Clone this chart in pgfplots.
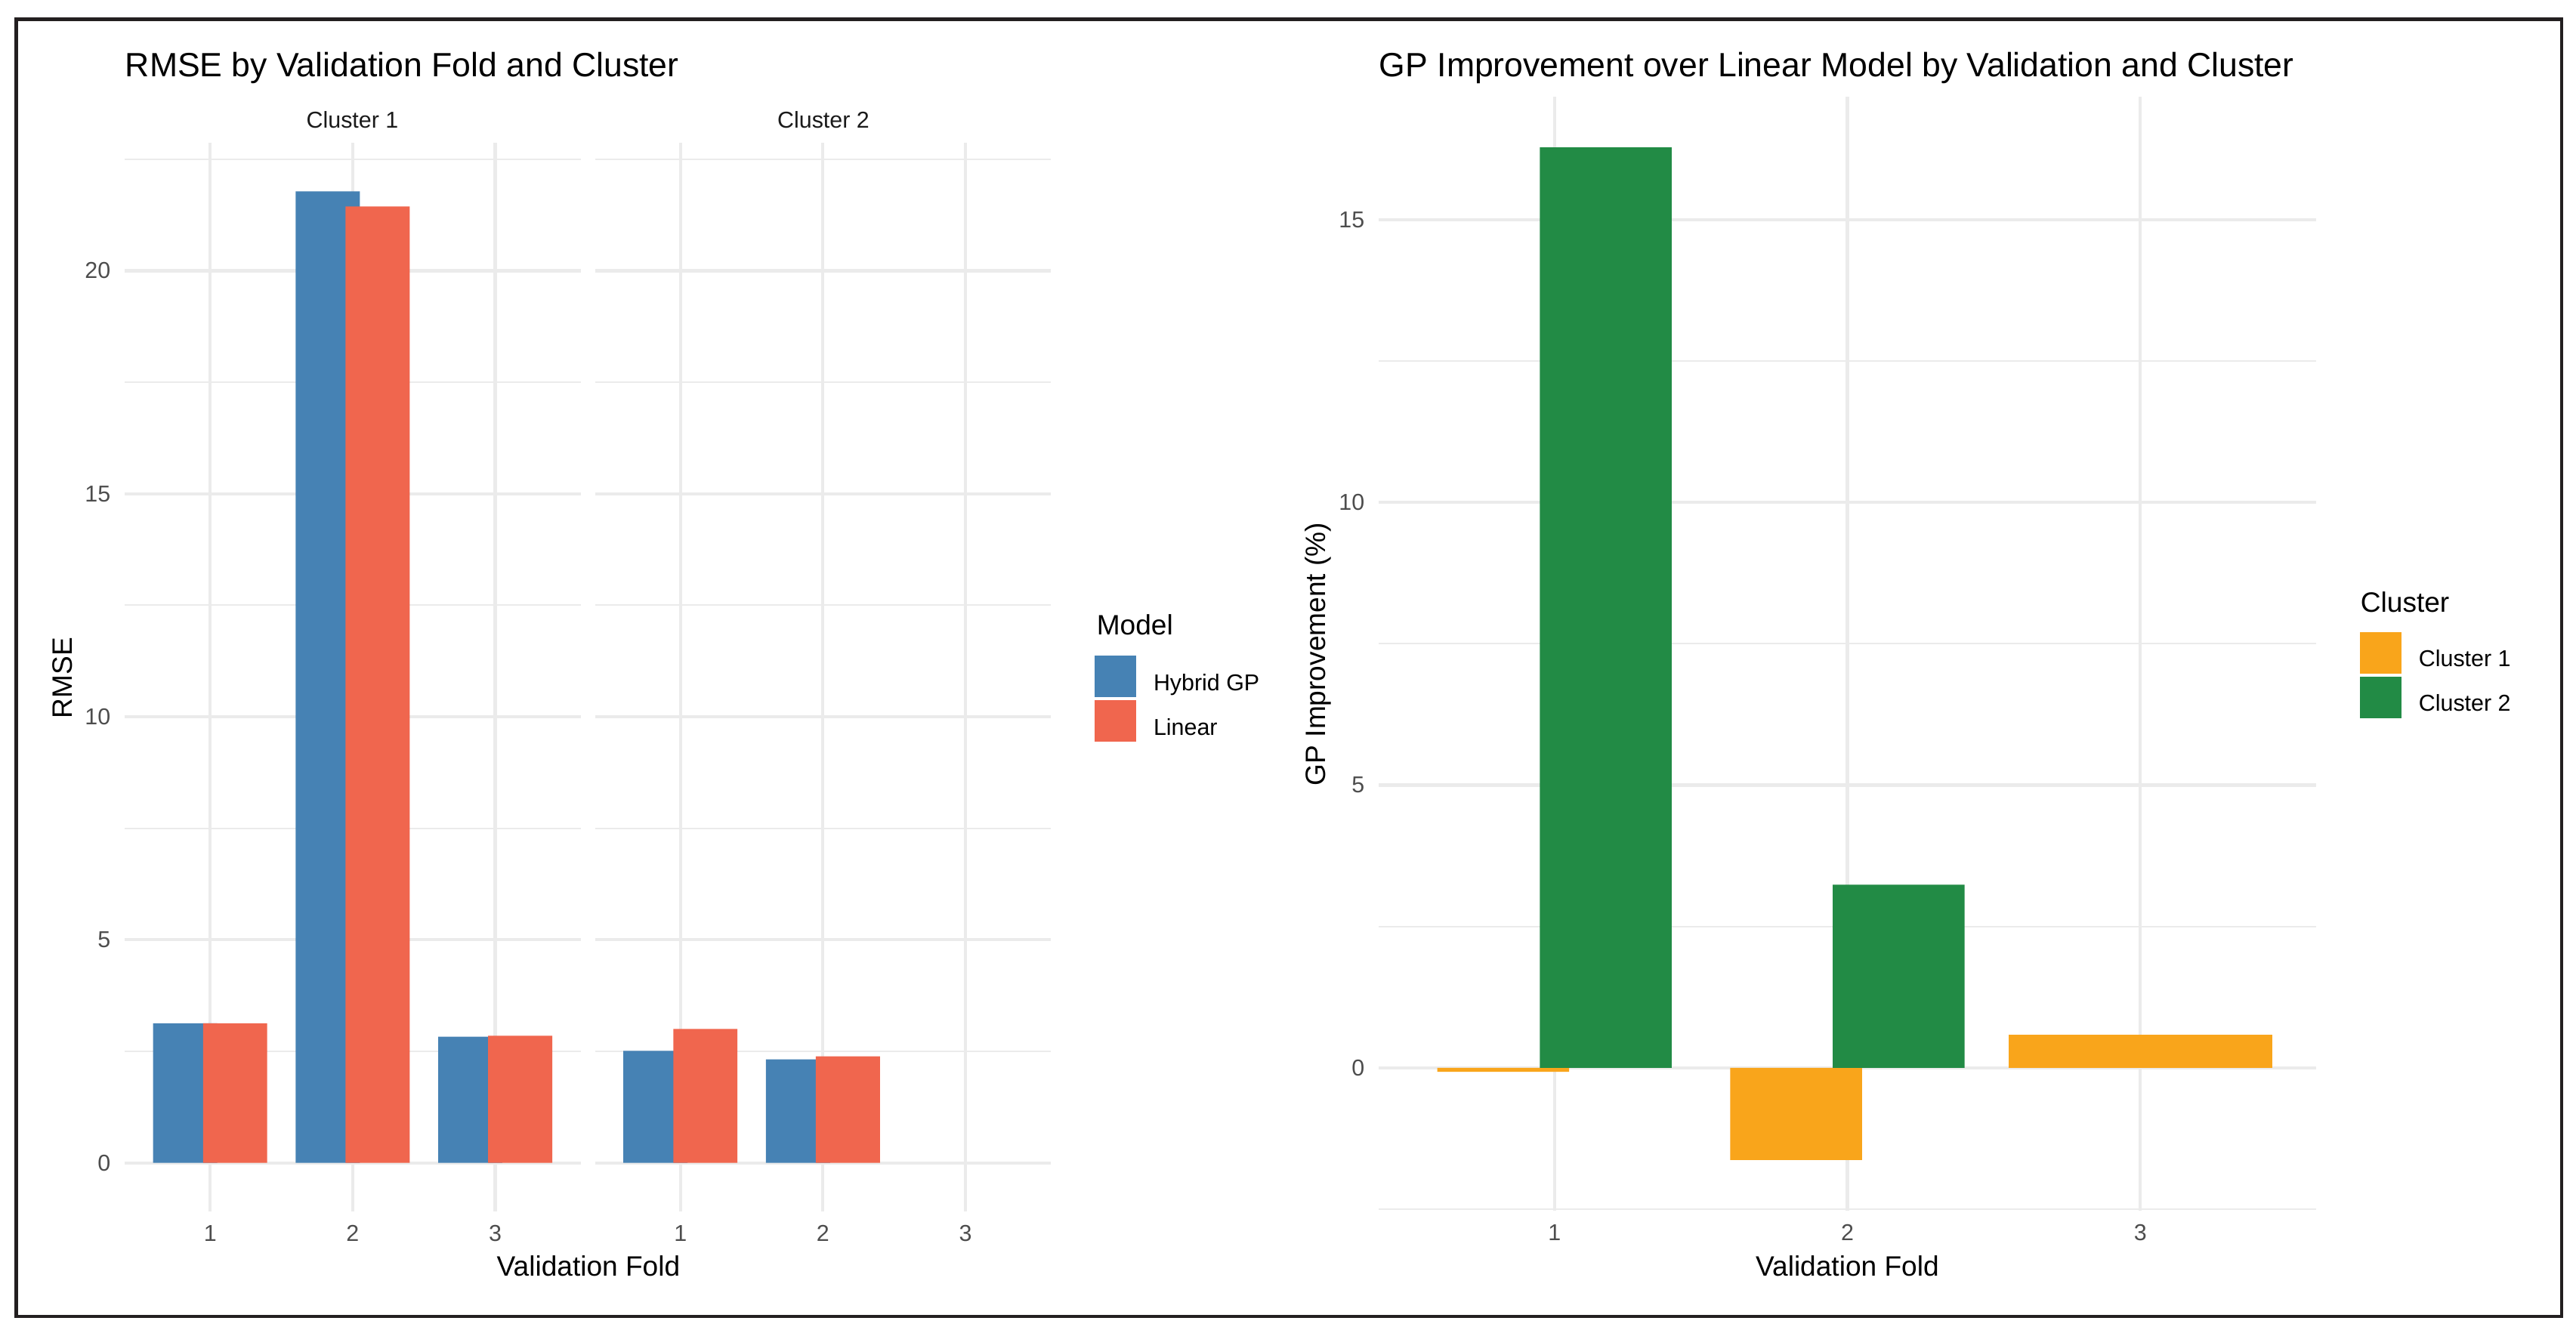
\documentclass[border=0pt]{standalone}
\usepackage{fontspec}
\setmainfont{Liberation Sans}
\usepackage{pgfplots}
\pgfplotsset{compat=1.18}

\definecolor{hybridblue}{RGB}{70,130,180}
\definecolor{linearred}{RGB}{240,102,78}
\definecolor{clusterorange}{RGB}{249,165,27}
\definecolor{clustergreen}{RGB}{34,139,69}
\definecolor{gridgray}{RGB}{235,235,235}
\definecolor{tickgray}{RGB}{77,77,77}
\definecolor{stripgray}{RGB}{26,26,26}
\definecolor{framecol}{RGB}{35,31,32}

\newcommand{\smallfont}{\fontsize{7.3}{8.5}\selectfont}
\newcommand{\labelfont}{\fontsize{8.9}{10.5}\selectfont}
\newcommand{\titlefont}{\fontsize{10.7}{12.5}\selectfont}

\pgfplotsset{
  panel/.style={
    scale only axis,
    axis line style={draw=none},
    tick style={draw=none},
    xmin=0.4, xmax=3.6,
    xtick={1,2,3},
    xmajorgrids, ymajorgrids, yminorgrids,
    major grid style={draw=gridgray, line width=1pt},
    minor grid style={draw=gridgray, line width=0.5pt},
    ticklabel style={font=\smallfont, text=tickgray},
    xticklabel style={anchor=north, inner sep=0pt, yshift=-4.3pt},
    yticklabel style={anchor=east, inner sep=0pt, xshift=-4.3pt},
    /pgf/number format/assume math mode=true,
    legend style={draw=none, fill=none, inner sep=0pt, outer sep=0pt,
      anchor=north west, row sep=0.96pt, column sep=5.5pt,
      font=\smallfont, nodes={inner sep=0pt}},
    legend cell align=left,
  },
  colbar/.style={ybar, draw=none,
    legend image code/.code={\fill[##1] (0pt,-4.06pt) rectangle (13.2pt,9.14pt);}},
}

\begin{document}
\begin{tikzpicture}
\useasboundingbox (0,0) rectangle (818.4pt,421.68pt);

% RMSE, cluster 1
\begin{axis}[panel,
  at={(39.6pt,36.72pt)}, anchor=south west,
  width=144.9pt, height=339.6pt,
  ymin=-1.089, ymax=22.87,
  ytick={0,5,10,15,20}, minor ytick={2.5,7.5,12.5,17.5,22.5}]
\addplot[colbar, fill=hybridblue, bar width=0.45, bar shift=-0.175]
  coordinates {(1,3.13) (2,21.78) (3,2.83)};
\addplot[colbar, fill=linearred, bar width=0.45, bar shift=0.175]
  coordinates {(1,3.13) (2,21.44) (3,2.85)};
\end{axis}

% RMSE, cluster 2 (shares the y axis of cluster 1)
\begin{axis}[panel,
  at={(189.0pt,36.72pt)}, anchor=south west,
  width=144.9pt, height=339.6pt,
  ymin=-1.089, ymax=22.87,
  ytick={0,5,10,15,20}, minor ytick={2.5,7.5,12.5,17.5,22.5},
  yticklabel=\empty,
  legend style={at={(1.0958,0.5201)}}]
\addplot[colbar, fill=hybridblue, bar width=0.45, bar shift=-0.175]
  coordinates {(1,2.51) (2,2.32)};
\addlegendentry{Hybrid GP}
\addplot[colbar, fill=linearred, bar width=0.45, bar shift=0.175]
  coordinates {(1,3.00) (2,2.39)};
\addlegendentry{Linear}
\end{axis}

% GP improvement
\begin{axis}[panel,
  at={(438.0pt,36.96pt)}, anchor=south west,
  width=297.84pt, height=354.0pt,
  ymin=-2.526, ymax=17.176,
  ytick={0,5,10,15}, minor ytick={-2.5,2.5,7.5,12.5},
  legend style={at={(1.0467,0.5193)}}]
\addplot[colbar, fill=clusterorange, bar width=0.45, bar shift=-0.175]
  coordinates {(1,-0.07) (2,-1.63)};
\addlegendentry{Cluster 1}
\addplot[colbar, fill=clusterorange, bar width=0.9, bar shift=0, forget plot]
  coordinates {(3,0.58)};
\addplot[colbar, fill=clustergreen, bar width=0.45, bar shift=0.175]
  coordinates {(1,16.28) (2,3.24)};
\addlegendentry{Cluster 2}
\end{axis}

% titles and labels
\node[anchor=base west, inner sep=0pt, font=\titlefont] at (39.6pt,397.2pt) {RMSE by Validation Fold and Cluster};
\node[anchor=base west, inner sep=0pt, font=\titlefont] at (438.0pt,397.2pt) {GP Improvement over Linear Model by Validation and Cluster};
\node[anchor=base, inner sep=0pt, font=\smallfont, text=stripgray] at (111.96pt,380.88pt) {Cluster 1};
\node[anchor=base, inner sep=0pt, font=\smallfont, text=stripgray] at (261.6pt,380.88pt) {Cluster 2};
\node[anchor=base, inner sep=0pt, font=\labelfont] at (186.96pt,16.3pt) {Validation Fold};
\node[anchor=base, inner sep=0pt, font=\labelfont] at (586.9pt,16.3pt) {Validation Fold};
\node[anchor=base, inner sep=0pt, rotate=90, font=\labelfont] at (22.8pt,206.2pt) {RMSE};
\node[anchor=base, inner sep=0pt, rotate=90, font=\labelfont] at (420.96pt,213.84pt) {GP Improvement (\%)};
\node[anchor=base west, inner sep=0pt, font=\labelfont] at (348.24pt,219.84pt) {Model};
\node[anchor=base west, inner sep=0pt, font=\labelfont] at (749.76pt,227.04pt) {Cluster};

% outer frame
\draw[framecol, line width=1pt] (5.16pt,3.36pt) rectangle (813.84pt,415.56pt);
\end{tikzpicture}
\end{document}
